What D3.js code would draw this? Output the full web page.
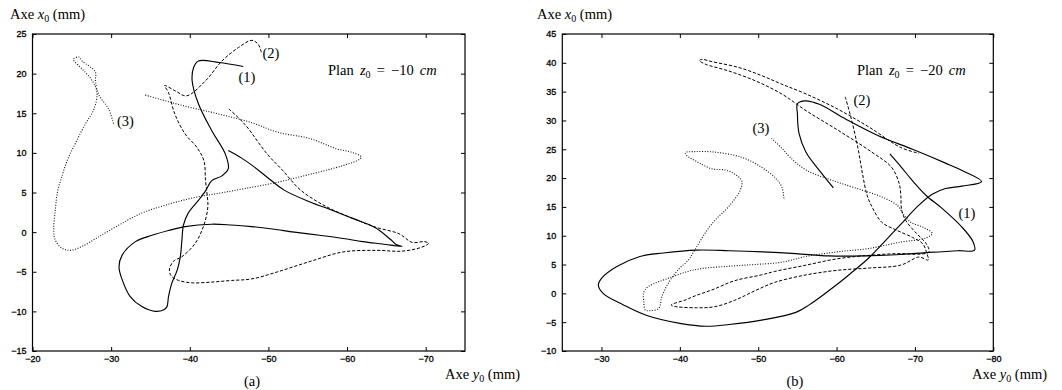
<!DOCTYPE html>
<html><head><meta charset="utf-8">
<script src="https://cdn.jsdelivr.net/npm/d3@7"></script>
<style>body{margin:0;background:#fff} svg{display:block}</style>
</head><body>
<svg id="c" width="1062" height="390"></svg>
<script>
// ---- tick values ----
const aXTicks = [-20, -30, -40, -50, -60, -70];
const aYTicks = [-15, -10, -5, 0, 5, 10, 15, 20, 25];
const bXTicks = [-30, -40, -50, -60, -70, -80];
const bYTicks = [-10, -5, 0, 5, 10, 15, 20, 25, 30, 35, 40, 45];

// ---- panel (a), plan z0 = -10 cm : [y0, x0] in mm ----
const a1 = [[-46.8,20.9],[-43.7,21.4],[-41.1,21.6],[-40.5,20.8],[-40.3,19.1],[-41.1,16.2],[-42.8,12.8],[-44.5,9.9],[-44.9,8.0],[-44.1,7.1],[-42.8,6.5],[-42.0,5.2],[-41.1,4.0],[-39.8,2.4],[-39.2,0.9],[-39.0,-1.0],[-38.8,-3.1],[-38.4,-4.8],[-37.7,-6.5],[-37.3,-8.1],[-37.1,-9.4],[-36.7,-9.8],[-35.6,-10.0],[-33.9,-9.4],[-32.4,-8.1],[-31.4,-6.0],[-31.0,-4.4],[-31.4,-2.9],[-33.1,-1.2],[-35.2,-0.4],[-37.3,0.2],[-39.4,0.7],[-42.8,1.0],[-45.3,0.9],[-47.9,0.7],[-50.5,0.4],[-53.3,0.0],[-56.5,-0.4],[-59.5,-0.8],[-62.0,-1.2],[-64.5,-1.5],[-67.0,-1.8],[-66.3,-1.6],[-65.5,-0.9],[-63.5,0.6],[-60.8,1.7],[-58.0,2.8],[-55.3,3.8],[-52.0,5.3],[-50.0,6.8],[-48.1,8.3],[-46.5,9.4],[-44.9,10.3]];
const a2 = [[-49.1,22.7],[-48.7,23.7],[-47.9,24.2],[-46.2,23.3],[-44.1,21.6],[-42.0,19.1],[-39.6,17.2],[-38.2,17.8],[-36.8,18.5],[-37.3,17.6],[-38.1,14.9],[-39.4,12.4],[-40.9,10.7],[-41.8,9.0],[-42.0,6.5],[-42.2,4.8],[-42.3,3.2],[-41.8,0.9],[-40.7,-1.4],[-39.0,-3.1],[-37.9,-3.7],[-37.4,-4.8],[-37.7,-5.6],[-38.6,-6.1],[-40.3,-6.4],[-42.8,-6.3],[-45.3,-6.1],[-47.9,-5.9],[-51.2,-5.0],[-55.3,-3.7],[-59.5,-2.5],[-63.7,-2.3],[-67.0,-2.4],[-69.5,-1.9],[-70.4,-1.4],[-69.8,-1.2],[-68.3,-1.3],[-66.6,-0.2],[-63.7,0.6],[-60.8,1.7],[-57.4,3.2],[-54.1,5.3],[-51.8,7.8],[-49.8,9.9],[-47.0,13.6],[-44.9,15.6]];
const a3 = [[-30.3,13.7],[-29.7,15.5],[-28.4,17.4],[-28.0,19.1],[-28.0,20.2],[-26.3,21.6],[-25.9,22.1],[-25.2,21.8],[-26.3,20.6],[-27.6,19.1],[-28.2,17.6],[-27.8,15.5],[-26.7,13.6],[-25.4,11.1],[-24.4,9.0],[-23.7,6.9],[-23.2,5.2],[-22.9,2.8],[-22.7,0.3],[-22.9,-1.0],[-23.7,-2.0],[-24.8,-2.3],[-26.3,-1.8],[-28.4,-0.6],[-31.0,0.9],[-33.9,2.4],[-36.9,3.4],[-40.3,4.3],[-43.7,4.9],[-47.0,5.5],[-51.2,6.3],[-55.3,7.3],[-59.5,8.4],[-61.6,9.2],[-61.8,9.5],[-60.5,10.1],[-58.7,10.5],[-55.3,11.8],[-51.2,12.6],[-47.9,13.8],[-43.7,14.9],[-39.0,16.0],[-34.3,17.3]];

// ---- panel (b), plan z0 = -20 cm ----
const b1 = [[-59.6,18.3],[-58.0,21.0],[-56.1,24.5],[-55.2,27.8],[-55.0,31.2],[-55.0,32.9],[-56.0,33.4],[-57.8,32.8],[-61.2,30.2],[-65.4,27.3],[-69.7,25.0],[-73.9,22.6],[-76.2,21.2],[-78.5,19.4],[-76.0,18.6],[-73.9,18.2],[-72.2,17.2],[-70.5,15.3],[-68.0,11.7],[-66.0,8.8],[-64.0,6.0],[-62.0,3.7],[-60.0,1.5],[-56.5,-2.0],[-54.8,-3.3],[-50.6,-4.6],[-46.3,-5.4],[-43.4,-5.7],[-40.0,-5.2],[-35.7,-3.8],[-32.8,-2.0],[-30.2,0.0],[-29.6,1.5],[-30.0,2.6],[-31.9,4.6],[-34.9,6.4],[-37.9,7.0],[-42.1,7.5],[-46.3,7.4],[-50.6,7.2],[-54.8,6.9],[-59.1,6.5],[-63.3,6.5],[-67.6,6.7],[-71.8,7.1],[-75.5,7.4],[-77.6,7.5],[-77.4,9.0],[-76.0,11.5],[-73.5,14.7],[-71.5,16.9],[-70.3,18.6],[-69.4,20.0],[-68.2,22.0],[-66.8,24.2]];
const b2 = [[-61.1,34.1],[-61.8,30.7],[-62.7,25.4],[-63.3,20.8],[-63.9,17.0],[-64.6,14.8],[-65.8,12.3],[-67.6,11.0],[-69.7,9.7],[-71.0,8.6],[-71.5,7.0],[-71.7,5.8],[-70.5,6.3],[-68.2,4.9],[-64.2,4.4],[-60.1,4.0],[-56.1,3.2],[-52.1,1.9],[-49.5,0.4],[-47.0,-1.2],[-44.5,-2.3],[-42.1,-2.5],[-39.1,-2.2],[-38.9,-2.0],[-40.8,-1.1],[-42.0,-0.4],[-44.1,0.6],[-47.0,2.2],[-50.4,3.2],[-52.1,3.8],[-56.1,4.9],[-60.1,6.0],[-64.2,6.6],[-68.2,6.9],[-70.5,6.8],[-71.8,7.2],[-71.4,8.7],[-70.2,10.4],[-68.8,12.7],[-68.3,14.5],[-68.2,17.0],[-68.0,19.0],[-67.0,21.9],[-64.5,24.5],[-60.3,28.2],[-56.1,31.7],[-53.0,34.6],[-49.6,36.9],[-46.2,38.6],[-43.2,39.8],[-42.5,40.4],[-42.8,40.6],[-44.1,40.2],[-47.5,39.2],[-50.4,37.8],[-53.0,36.3],[-56.1,34.6],[-60.1,32.0],[-64.2,28.8],[-68.2,25.3],[-70.5,24.3]];
const b3 = [[-51.7,26.9],[-53.0,25.2],[-54.0,23.7],[-56.1,21.4],[-59.9,19.4],[-63.3,17.9],[-66.0,16.6],[-67.8,15.2],[-68.6,13.6],[-69.5,12.3],[-71.0,11.5],[-72.2,10.4],[-71.4,9.6],[-68.2,8.9],[-64.2,7.8],[-60.1,7.2],[-56.1,6.4],[-53.0,5.4],[-49.5,5.0],[-46.2,4.7],[-41.9,4.1],[-38.5,2.6],[-36.0,1.2],[-35.4,0.2],[-35.4,-1.5],[-35.6,-2.9],[-36.2,-3.0],[-37.3,-2.6],[-37.7,-0.6],[-38.5,1.7],[-39.8,4.1],[-41.1,5.8],[-41.9,7.5],[-43.2,10.4],[-44.5,12.7],[-46.2,15.0],[-47.7,17.9],[-47.9,19.5],[-47.0,20.7],[-45.8,21.4],[-44.1,21.6],[-42.4,22.7],[-40.9,23.9],[-40.7,24.4],[-41.9,24.6],[-44.5,24.5],[-47.9,23.6],[-50.4,21.9],[-52.2,20.0],[-53.0,18.5],[-53.3,16.2]];

const svg = d3.select("#c");
const serif = "'Liberation Serif','Times New Roman',serif";
const sans = "'Liberation Sans',Arial,sans-serif";

const styles = {
  solid:  {dash: null, color: "#000", width: 1.15},
  dashed: {dash: "3.2,1.8", color: "#000", width: 1},
  dotted: {dash: "1,1.6", color: "#111", width: 1.1}
};

function axisLabel(g, x, y, v) {
  const t = g.append("text").attr("x", x).attr("y", y)
    .attr("font-family", serif).attr("font-size", 14.5).attr("fill", "#000");
  t.append("tspan").text("Axe ");
  t.append("tspan").attr("font-style", "italic").text(v);
  t.append("tspan").attr("dy", 3).attr("font-size", 10).text("0");
  t.append("tspan").attr("dy", -3).text(" (mm)");
}

function panel(cfg) {
  const g = svg.append("g");
  const x = d3.scaleLinear().domain(cfg.xDom).range([cfg.L, cfg.R]);
  const y = d3.scaleLinear().domain(cfg.yDom).range([cfg.B, cfg.T]);

  const bottom = g.append("g").attr("transform", `translate(0,${cfg.B})`)
    .call(d3.axisBottom(x).tickValues(cfg.xTicks).tickSize(-4).tickPadding(5).tickFormat(d3.format("d")));
  const left = g.append("g").attr("transform", `translate(${cfg.L},0)`)
    .call(d3.axisLeft(y).tickValues(cfg.yTicks).tickSize(-4).tickPadding(6).tickFormat(d3.format("d")));
  const top = g.append("g").attr("transform", `translate(0,${cfg.T})`)
    .call(d3.axisTop(x).tickValues(cfg.xTicks).tickSize(-4).tickFormat(""));
  const right = g.append("g").attr("transform", `translate(${cfg.R},0)`)
    .call(d3.axisRight(y).tickValues(cfg.yTicks).tickSize(-4).tickFormat(""));
  [bottom, left, top, right].forEach(a => {
    a.select(".domain").remove();
    a.selectAll("line").attr("stroke", "#000").attr("stroke-width", 1);
    a.selectAll("text").attr("font-family", sans).attr("font-size", 9).attr("fill", "#000")
      .attr("stroke", "#000").attr("stroke-width", 0.3);
  });

  const line = d3.line().x(d => x(d[0])).y(d => y(d[1])).curve(d3.curveCatmullRom.alpha(0.5));
  cfg.curves.forEach(c => {
    const s = styles[c.style];
    g.append("path").attr("d", line(c.data)).attr("fill", "none")
      .attr("stroke", s.color).attr("stroke-width", s.width)
      .attr("stroke-dasharray", s.dash).attr("stroke-linejoin", "round");
  });

  g.append("rect").attr("x", cfg.L).attr("y", cfg.T)
    .attr("width", cfg.R - cfg.L).attr("height", cfg.B - cfg.T)
    .attr("fill", "none").attr("stroke", "#000").attr("stroke-width", 1.2);

  cfg.labels.forEach(l => {
    g.append("text").attr("x", l.x).attr("y", l.y).attr("text-anchor", "middle")
      .attr("font-family", serif).attr("font-size", 14.5).text(l.t);
  });

  const p = g.append("text").attr("x", cfg.planX).attr("y", 75)
    .attr("font-family", serif).attr("font-size", 14.5).attr("word-spacing", 2.5);
  p.append("tspan").text("Plan ");
  p.append("tspan").attr("font-style", "italic").text("z");
  p.append("tspan").attr("dy", 3).attr("font-size", 10).text("0");
  p.append("tspan").attr("dy", -3).text(" = \u2212" + cfg.plan + " ");
  p.append("tspan").attr("font-style", "italic").text("cm");

  axisLabel(g, cfg.yLabX, 19, "x");
  axisLabel(g, cfg.xLabX, 379, "y");
  g.append("text").attr("x", cfg.letterX).attr("y", 386).attr("text-anchor", "middle")
    .attr("font-family", serif).attr("font-size", 14.5).text(cfg.letter);
}

panel({
  xDom: [-20, -75], yDom: [-15, 25], L: 32.5, R: 465, T: 34, B: 351,
  xTicks: aXTicks, yTicks: aYTicks,
  curves: [{data: a1, style: "solid"}, {data: a2, style: "dashed"}, {data: a3, style: "dotted"}],
  labels: [{t: "(1)", x: 247, y: 82}, {t: "(2)", x: 271, y: 58}, {t: "(3)", x: 125.5, y: 126}],
  plan: "10", planX: 328, yLabX: 10, xLabX: 445, letter: "(a)", letterX: 252
});
panel({
  xDom: [-25, -80], yDom: [-10, 45], L: 562.3, R: 993.3, T: 34, B: 351,
  xTicks: bXTicks, yTicks: bYTicks,
  curves: [{data: b1, style: "solid"}, {data: b2, style: "dashed"}, {data: b3, style: "dotted"}],
  labels: [{t: "(2)", x: 862, y: 105}, {t: "(3)", x: 761, y: 133}, {t: "(1)", x: 967, y: 218}],
  plan: "20", planX: 857, yLabX: 537, xLabX: 972, letter: "(b)", letterX: 795
});
</script>
</body></html>
